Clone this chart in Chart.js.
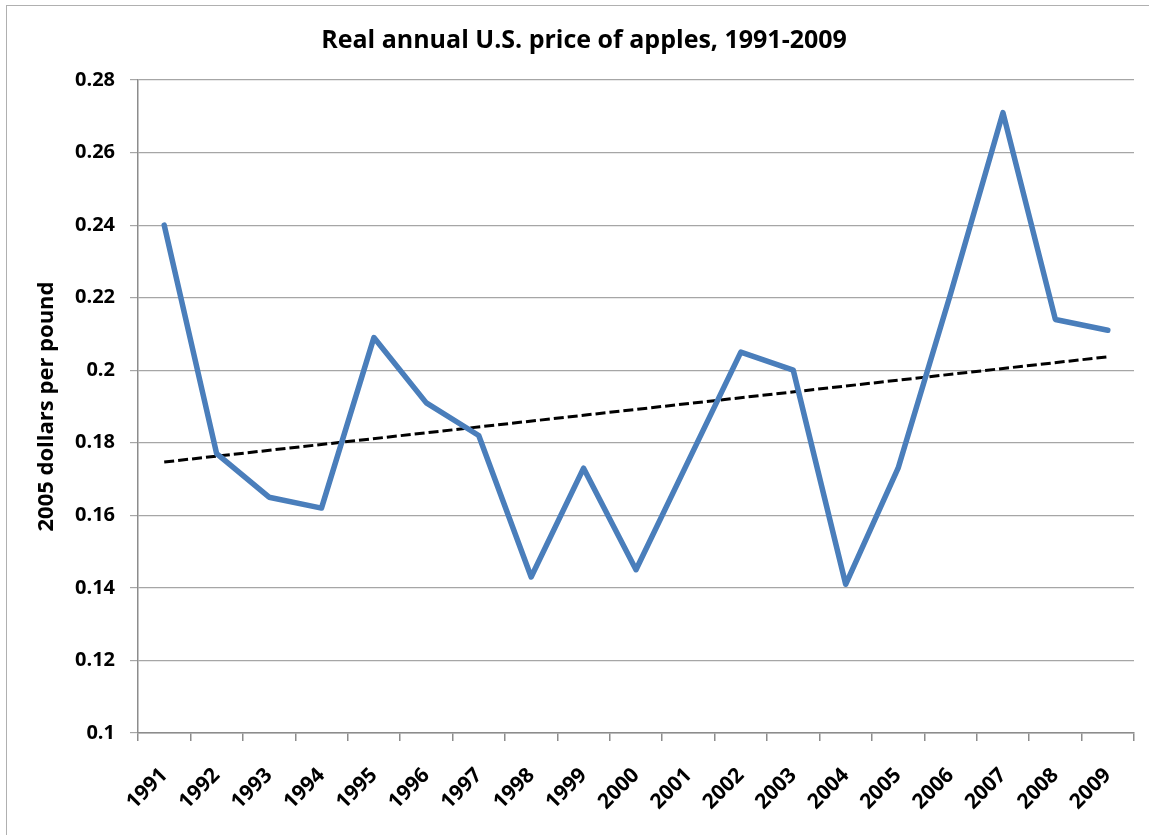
<!DOCTYPE html>
<html>
<head>
<meta charset="utf-8">
<script src="https://cdn.jsdelivr.net/npm/chart.js@4/dist/chart.umd.min.js"></script>
<style>
  html, body { margin: 0; padding: 0; background: #fff; }
  #wrap { position: relative; width: 1149px; height: 835px; }
  #frame { position: absolute; left: 6px; top: 5px; width: 1160px; height: 850px; border: 1.5px solid #b0b0b0; box-sizing: border-box; }
  canvas { position: absolute; left: 0; top: 0; }
</style>
</head>
<body>
<div id="wrap">
  <div id="frame"></div>
  <canvas id="chart" width="1149" height="835"></canvas>
</div>
<script>
const years = ['1991', '1992', '1993', '1994', '1995', '1996', '1997', '1998', '1999', '2000',
               '2001', '2002', '2003', '2004', '2005', '2006', '2007', '2008', '2009'];
const prices = [0.240, 0.177, 0.165, 0.162, 0.209, 0.191, 0.182, 0.143, 0.173, 0.145,
                0.175, 0.205, 0.200, 0.141, 0.173, 0.221, 0.271, 0.214, 0.211];
// linear trend, only the end points
const trend = [0.1747, null, null, null, null, null, null, null, null, null,
               null, null, null, null, null, null, null, null, 0.2037];

const font = '"Open Sans", Calibri, sans-serif';

const ctx = document.getElementById('chart').getContext('2d');
new Chart(ctx, {
    type: 'line',
    data: {
        labels: years,
        datasets: [{
            label: 'Price',
            data: prices,
            borderColor: '#4a7ebb',
            borderWidth: 5.5,
            pointRadius: 0,
            borderJoinStyle: 'round',
            borderCapStyle: 'round',
            tension: 0,
        }, {
            label: 'Trend',
            data: trend,
            spanGaps: true,
            borderColor: '#000',
            borderWidth: 3,
            borderDash: [10, 4],
            pointRadius: 0,
            tension: 0,
        }]
    },
    options: {
        responsive: false,
        animation: false,
        layout: { padding: { left: 34, right: 15, top: 0, bottom: 0 } },
        plugins: {
            legend: { display: false },
            tooltip: { enabled: false },
            title: {
                display: true,
                text: 'Real annual U.S. price of apples, 1991-2009',
                color: '#000',
                font: { family: font, size: 25, weight: 'bold' },
                padding: { top: 26, bottom: 24 },
            },
        },
        scales: {
            x: {
                offset: true,
                grid: {
                    offset: true,
                    drawOnChartArea: false,
                    tickLength: 8,
                    color: '#8c8c8c',
                    lineWidth: 1.5,
                },
                border: { color: '#8c8c8c', width: 1.5 },
                ticks: {
                    color: '#000',
                    font: { family: font, size: 21, weight: 'bold' },
                    minRotation: 45,
                    maxRotation: 45,
                    padding: 22,
                    autoSkip: false,
                },
                afterFit: (scale) => { scale.height = 835 - 733; },
            },
            y: {
                min: 0.1,
                max: 0.28,
                grid: {
                    color: '#a6a6a6',
                    lineWidth: 1.2,
                    tickLength: 8,
                },
                border: { color: '#8c8c8c', width: 1.5 },
                ticks: {
                    stepSize: 0.02,
                    color: '#000',
                    font: { family: font, size: 20, weight: 'bold' },
                    padding: 15,
                    callback: (v) => String(Number(v.toFixed(2))),
                },
                title: {
                    display: true,
                    text: '2005 dollars per pound',
                    color: '#000',
                    font: { family: font, size: 22, weight: 'bold' },
                    padding: { top: 0, bottom: 10 },
                },
                afterFit: (scale) => { scale.width = 138 - 34; },
            },
        },
    },
});
</script>
</body>
</html>
